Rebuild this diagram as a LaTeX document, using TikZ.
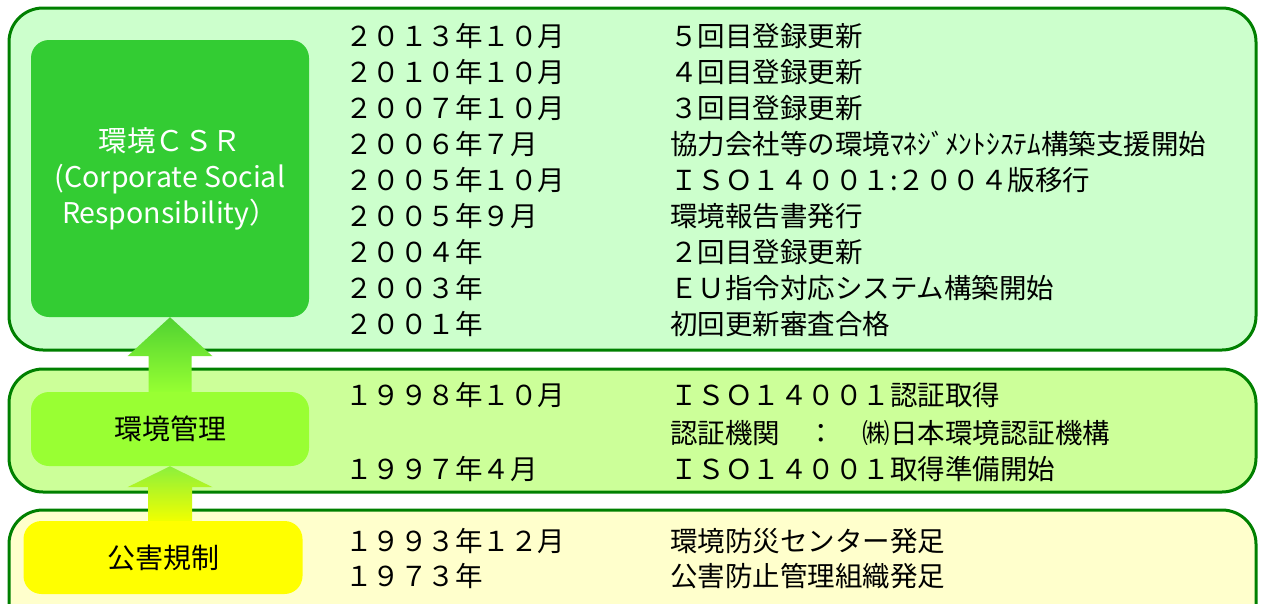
\documentclass[tikz,border=0pt]{standalone}
\usepackage{fontspec}
\setmainfont{Noto Sans CJK JP}
\usetikzlibrary{calc}
\definecolor{dkgreen}{RGB}{0,128,0}
\definecolor{topfill}{RGB}{204,255,204}
\definecolor{midfill}{RGB}{204,255,153}
\definecolor{botfill}{RGB}{255,255,204}
\definecolor{csrgreen}{RGB}{51,204,51}
\definecolor{mgmtgreen}{RGB}{153,255,51}
\definecolor{polyellow}{RGB}{255,255,0}
\definecolor{arrAtop}{RGB}{80,210,50}
\definecolor{arrAbot}{RGB}{150,255,50}
\definecolor{arrBtop}{RGB}{140,240,60}
\definecolor{arrBbot}{RGB}{240,255,0}
\begin{document}
\begin{tikzpicture}[x=1pt,y=-1pt,
  outer/.style={draw=dkgreen,line width=3pt,rounded corners=34pt},
  innerbox/.style={rounded corners=18pt,inner sep=0pt,align=center},
  txt/.style={anchor=west,inner sep=0pt,font=\fontsize{27.5}{32}\selectfont},
]
\useasboundingbox (0,0) rectangle (1264,603);
\clip (0,0) rectangle (1264,603);
% outer panels
\draw[outer,fill=topfill] (9,8) rectangle (1256,350);
\draw[outer,fill=midfill] (9,369) rectangle (1256,492);
\draw[outer,fill=botfill] (9,510) rectangle (1256,640);
% inner boxes
\node[innerbox,fill=csrgreen,minimum width=278,minimum height=277,text=white,
  font=\fontsize{28.5}{36}\selectfont] (csr) at (170,178.5)
  {環境ＣＳＲ\\(Corporate Social\\Responsibility）};
\node[innerbox,fill=mgmtgreen,minimum width=278,minimum height=74,
  font=\fontsize{28}{32}\selectfont] (mgmt) at (170,429) {環境管理};
\node[innerbox,fill=polyellow,minimum width=279,minimum height=73,
  font=\fontsize{28}{32}\selectfont] (poll) at (163,557.5) {公害規制};
% arrows
\shade[top color=arrAtop,bottom color=arrAbot]
  ($(mgmt.north)+(-21.5,0)$) -- ($(csr.south)+(-21.5,39)$) -- ($(csr.south)+(-42.5,39)$)
  -- (csr.south) -- ($(csr.south)+(42.5,39)$) -- ($(csr.south)+(21.5,39)$)
  -- ($(mgmt.north)+(21.5,0)$) -- cycle;
\coordinate (a2base) at (mgmt.south |- poll.north);
\shade[top color=arrBtop,bottom color=arrBbot]
  ($(a2base)+(-22,0)$) -- ($(mgmt.south)+(-22,21)$) -- ($(mgmt.south)+(-42.5,21)$)
  -- (mgmt.south) -- ($(mgmt.south)+(42.5,21)$) -- ($(mgmt.south)+(22,21)$)
  -- ($(a2base)+(22,0)$) -- cycle;
% top panel texts
\node[txt] (d1) at (345,36) {２０１３年１０月};
\node[txt] (e1) at (670,36) {５回目登録更新};
\node[txt] (d2) at (345,72) {２０１０年１０月};
\node[txt] (e2) at (670,72) {４回目登録更新};
\node[txt] (d3) at (345,108) {２００７年１０月};
\node[txt] (e3) at (670,108) {３回目登録更新};
\node[txt] (d4) at (345,144) {２００６年７月};
\node[txt] (e4) at (670,144) {協力会社等の環境ﾏﾈｼﾞﾒﾝﾄｼｽﾃﾑ構築支援開始};
\node[txt] (d5) at (345,180) {２００５年１０月};
\node[txt] (e5) at (670,180) {ＩＳＯ１４００１:２００４版移行};
\node[txt] (d6) at (345,216) {２００５年９月};
\node[txt] (e6) at (670,216) {環境報告書発行};
\node[txt] (d7) at (345,252) {２００４年};
\node[txt] (e7) at (670,252) {２回目登録更新};
\node[txt] (d8) at (345,288) {２００３年};
\node[txt] (e8) at (670,288) {ＥＵ指令対応システム構築開始};
\node[txt] (d9) at (345,324) {２００１年};
\node[txt] (e9) at (670,324) {初回更新審査合格};
% middle panel texts
\node[txt] (m1) at (345,395) {１９９８年１０月};
\node[txt] (n1) at (670,395) {ＩＳＯ１４００１認証取得};
\node[txt] (n2) at (670,433) {認証機関　：　㈱日本環境認証機構};
\node[txt] (m3) at (345,469) {１９９７年４月};
\node[txt] (n3) at (670,469) {ＩＳＯ１４００１取得準備開始};
% bottom panel texts
\node[txt] (b1) at (345,541) {１９９３年１２月};
\node[txt] (c1) at (670,541) {環境防災センター発足};
\node[txt] (b2) at (345,576) {１９７３年};
\node[txt] (c2) at (670,576) {公害防止管理組織発足};
\end{tikzpicture}
\end{document}
